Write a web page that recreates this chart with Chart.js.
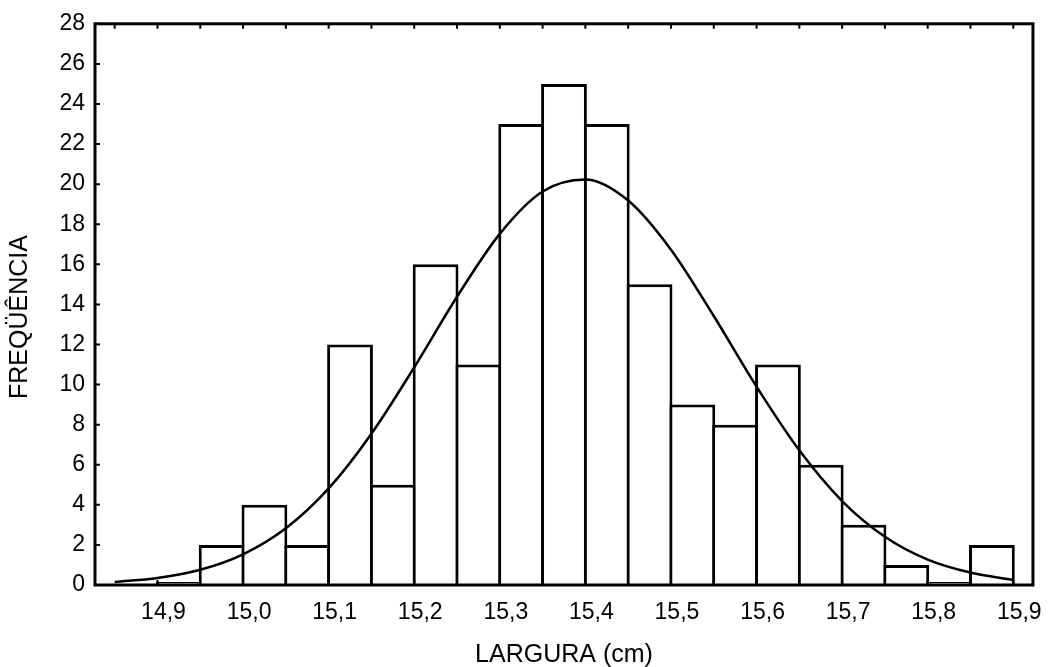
<!DOCTYPE html>
<html>
<head>
<meta charset="utf-8">
<script src="https://cdn.jsdelivr.net/npm/chart.js@4/dist/chart.umd.min.js"></script>
<style>
  html, body { margin: 0; padding: 0; background: #ffffff; }
  #wrap { width: 1050px; height: 667px; position: relative; }
</style>
</head>
<body>
<div id="wrap"><canvas id="c" width="1050" height="667"></canvas></div>
<script>
// ---- data ----
const binCenters = [14.925, 14.975, 15.025, 15.075, 15.125, 15.175, 15.225, 15.275, 15.325, 15.375,
                    15.425, 15.475, 15.525, 15.575, 15.625, 15.675, 15.725, 15.775, 15.825, 15.875];
const frequencies = [0.15, 2, 4, 2, 12, 5, 16, 11, 23, 25,
                     23, 15, 9, 8, 11, 6, 3, 1, 0.15, 2];
const curveX = [14.85, 14.90, 14.95, 15.00, 15.05, 15.10, 15.15, 15.20, 15.25, 15.30, 15.35,
                15.40, 15.45, 15.50, 15.55, 15.60, 15.65, 15.70, 15.75, 15.80, 15.85, 15.90];
const curveY = [0.15, 0.35, 0.76, 1.53, 2.83, 4.82, 7.55, 10.86, 14.38, 17.52, 19.63,
                20.23, 19.18, 16.73, 13.42, 9.90, 6.72, 4.19, 2.41, 1.27, 0.62, 0.25];
const xTickValues = [14.9, 15.0, 15.1, 15.2, 15.3, 15.4, 15.5, 15.6, 15.7, 15.8, 15.9];
const xTickLabels = ['14,9', '15,0', '15,1', '15,2', '15,3', '15,4', '15,5', '15,6', '15,7', '15,8', '15,9'];
const topTickValues = [14.85, 14.9, 14.95, 15.0, 15.05, 15.1, 15.15, 15.2, 15.25, 15.3, 15.35,
                       15.4, 15.45, 15.5, 15.55, 15.6, 15.65, 15.7, 15.75, 15.8, 15.85, 15.9];
const yTickValues = [0, 2, 4, 6, 8, 10, 12, 14, 16, 18, 20, 22, 24, 26, 28];
const yTickLabels = ['0', '2', '4', '6', '8', '10', '12', '14', '16', '18', '20', '22', '24', '26', '28'];
const xTitle = 'LARGURA (cm)';
const yTitle = 'FREQÜÊNCIA';

const FONT = '"Liberation Sans", Arial, Helvetica, sans-serif';

const framePlugin = {
  id: 'frame',
  afterDraw(chart) {
    const ctx = chart.ctx;
    const a = chart.chartArea;
    const xs = chart.scales.x, ys = chart.scales.y;
    ctx.save();
    ctx.strokeStyle = '#000';
    ctx.lineWidth = 3;
    ctx.lineCap = 'butt';
    ctx.strokeRect(a.left, a.top, a.right - a.left, a.bottom - a.top);
    ctx.lineWidth = 2;
    ctx.beginPath();
    xTickValues.forEach(v => {
      const px = xs.getPixelForValue(v);
      ctx.moveTo(px, a.bottom); ctx.lineTo(px, a.bottom - 5);
    });
    topTickValues.forEach(v => {
      const px = xs.getPixelForValue(v);
      ctx.moveTo(px, a.top); ctx.lineTo(px, a.top + 5);
    });
    yTickValues.forEach(v => {
      const py = ys.getPixelForValue(v);
      ctx.moveTo(a.left, py); ctx.lineTo(a.left + 5, py);
    });
    ctx.stroke();
    // y axis title
    ctx.fillStyle = '#000';
    ctx.font = '25px ' + FONT;
    ctx.textAlign = 'center';
    ctx.textBaseline = 'middle';
    ctx.translate(20, 317);
    ctx.rotate(-Math.PI / 2);
    ctx.fillText(yTitle, 0, 0);
    ctx.restore();
  }
};

new Chart(document.getElementById('c'), {
  type: 'bar',
  data: {
    datasets: [
      {
        type: 'line',
        data: curveX.map((x, i) => ({ x: x, y: curveY[i] })),
        borderColor: '#000',
        borderWidth: 2.5,
        pointRadius: 0,
        fill: false,
        cubicInterpolationMode: 'monotone',
        order: 0
      },
      {
        type: 'bar',
        data: binCenters.map((x, i) => ({ x: x, y: frequencies[i] })),
        backgroundColor: '#ffffff',
        borderColor: '#000000',
        borderWidth: 3,
        barPercentage: 1.07,
        categoryPercentage: 1,
        borderSkipped: 'start',
        order: 1
      }
    ]
  },
  options: {
    responsive: false,
    animation: false,
    layout: { padding: { top: 18, right: 16, bottom: 0, left: 0 } },
    plugins: { legend: { display: false }, tooltip: { enabled: false } },
    scales: {
      x: {
        type: 'linear',
        min: 14.827,
        max: 15.923,
        offset: false,
        grid: { display: false, drawTicks: false },
        border: { display: false },
        afterBuildTicks: s => { s.ticks = xTickValues.map(v => ({ value: v })); },
        afterFit: s => { s.height = 82; },
        ticks: {
          autoSkip: false,
          maxRotation: 0,
          padding: 14,
          labelOffset: 6,
          color: '#000',
          font: { family: FONT, size: 23 },
          callback: (v) => { const i = xTickValues.findIndex(t => Math.abs(t - v) < 1e-6); return i >= 0 ? xTickLabels[i] : ''; }
        },
        title: {
          display: true,
          text: xTitle,
          color: '#000',
          font: { family: FONT, size: 25 },
          padding: { top: 0, bottom: -3 }
        }
      },
      y: {
        min: 0,
        max: 28,
        grid: { display: false, drawTicks: false },
        border: { display: false },
        afterBuildTicks: s => { s.ticks = yTickValues.map(v => ({ value: v })); },
        afterFit: s => { s.width = 95; },
        ticks: {
          autoSkip: false,
          padding: 10,
          color: '#000',
          font: { family: FONT, size: 23 },
          callback: (v) => { const i = yTickValues.indexOf(v); return i >= 0 ? yTickLabels[i] : ''; }
        }
      }
    }
  },
  plugins: [framePlugin]
});
</script>
</body>
</html>
